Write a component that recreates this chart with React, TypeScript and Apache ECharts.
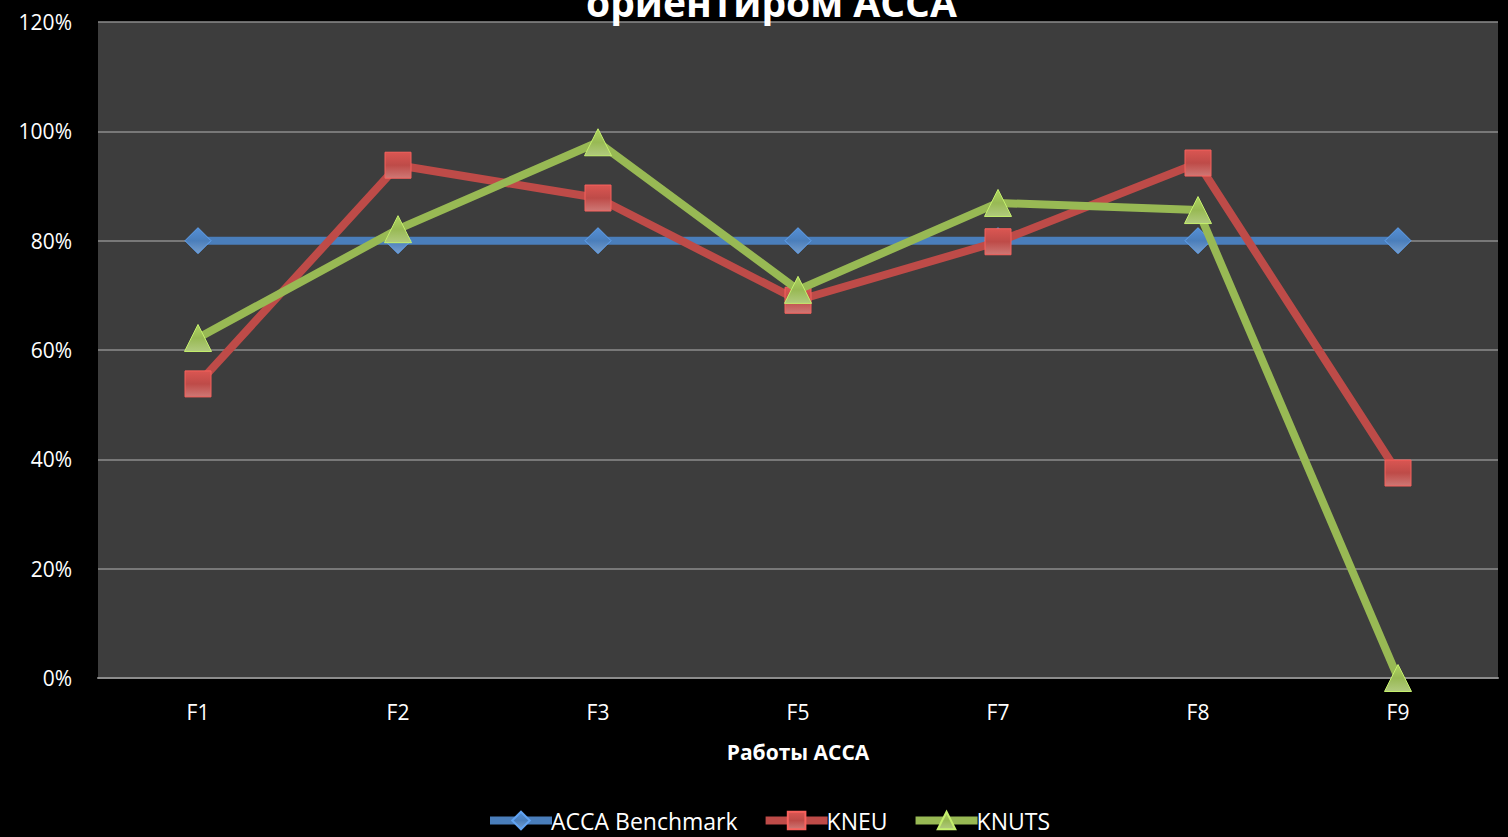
import React, { useEffect, useRef } from "react";
import * as echarts from "echarts";

const categories = ["F1", "F2", "F3", "F5", "F7", "F8", "F9"];
const accaBenchmark = [0.8, 0.8, 0.8, 0.8, 0.8, 0.8, 0.8];
const kneu = [0.538, 0.938, 0.878, 0.691, 0.798, 0.942, 0.375];
const knuts = [0.622, 0.821, 0.98, 0.71, 0.869, 0.856, 0.0];
const seriesNames = ["ACCA Benchmark", "KNEU", "KNUTS"];
const titleText = "ориентиром ACCA";
const xAxisName = "Работы ACCA";

const FONT = "'Open Sans', 'Noto Sans', sans-serif";

export default function App() {
  const ref = useRef<HTMLDivElement>(null);
  useEffect(() => {
    if (!ref.current) return;
    const chart = echarts.init(ref.current, undefined, { renderer: "svg" });
    const colors = ["#4a7ebb", "#be4b48", "#98b954"];
    const symbols = ["diamond", "rect", "triangle"];
    const sizes = [26, 26, 27];
    const datas = [accaBenchmark, kneu, knuts];
    const grad = (c: string) =>
      new echarts.graphic.LinearGradient(0, 0, 0, 1, [
        { offset: 0, color: echarts.color.lift(c, -0.15) },
        { offset: 0.5, color: c },
        { offset: 1, color: echarts.color.lift(c, 0.25) },
      ]);
    chart.setOption({
      animation: false,
      backgroundColor: "#000000",
      title: {
        text: titleText,
        left: 581,
        top: -23,
        textStyle: { color: "#ffffff", fontSize: 39, fontWeight: "bold", fontFamily: FONT },
      },
      legend: {
        bottom: 0,
        left: 481,
        itemWidth: 62,
        itemHeight: 22,
        itemGap: 24,
        lineStyle: { width: 8 },
        textStyle: { color: "#ffffff", fontSize: 23, fontFamily: FONT, padding: [0, 0, 0, -6] },
        data: seriesNames,
      },
      grid: {
        left: 98,
        right: 10,
        top: 22,
        bottom: 159,
        show: true,
        backgroundColor: "#3d3d3d",
        borderWidth: 0,
      },
      xAxis: {
        type: "category",
        data: categories,
        boundaryGap: true,
        name: xAxisName,
        nameLocation: "middle",
        nameGap: 63,
        nameTextStyle: { color: "#ffffff", fontSize: 21, fontWeight: "bold", fontFamily: FONT },
        axisLine: { show: true, lineStyle: { color: "#8c8c8c", width: 2 } },
        axisTick: { show: false },
        axisLabel: { color: "#ffffff", fontSize: 21, fontFamily: FONT, margin: 23 },
      },
      yAxis: {
        type: "value",
        min: 0,
        max: 1.2,
        interval: 0.2,
        axisLine: { show: false },
        axisTick: { show: false },
        splitLine: { show: true, lineStyle: { color: "#8c8c8c", width: 1.5 } },
        axisLabel: {
          color: "#ffffff",
          fontSize: 21,
          fontFamily: FONT,
          margin: 26,
          formatter: (v: number) => Math.round(v * 100) + "%",
        },
      },
      series: seriesNames.map((name, i) => ({
        name,
        type: "line",
        data: datas[i],
        symbol: symbols[i],
        symbolSize: sizes[i],
        z: 2 + i,
        lineStyle: { color: colors[i], width: 8 },
        itemStyle: { color: grad(colors[i]), borderColor: echarts.color.lift(colors[i], -0.3), borderWidth: 1 },
      })),
    });
    return () => chart.dispose();
  }, []);
  return <div ref={ref} style={{ width: 1508, height: 837, position: "absolute", left: 0, top: 0 }} />;
}
